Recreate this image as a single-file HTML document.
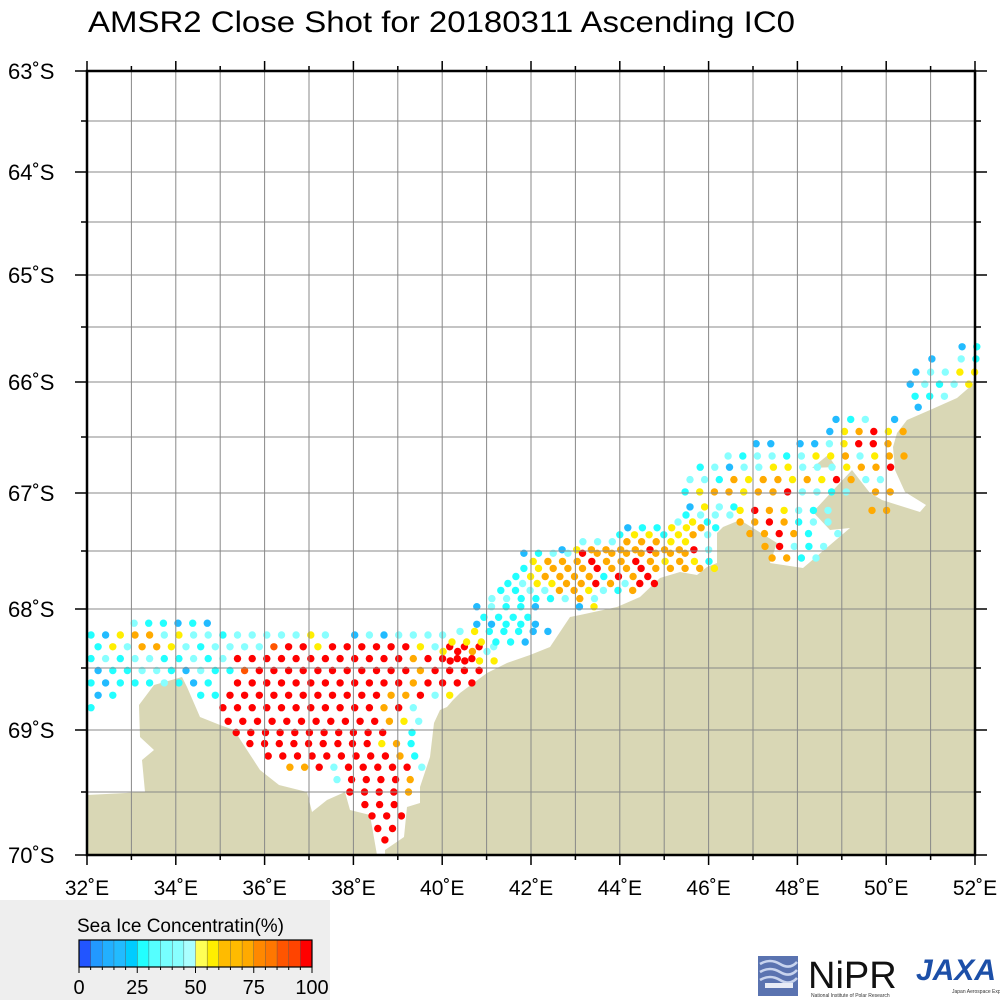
<!DOCTYPE html>
<html><head><meta charset="utf-8"><style>
html,body{margin:0;padding:0;background:#fff;}
svg{display:block;font-family:"Liberation Sans",sans-serif;}
</style></head><body>
<svg id="chart" width="1000" height="1000" viewBox="0 0 1000 1000" xmlns="http://www.w3.org/2000/svg">
<text x="88" y="32" font-size="30" textLength="707" lengthAdjust="spacingAndGlyphs">AMSR2 Close Shot for 20180311 Ascending IC0</text>
<rect x="87" y="71" width="888" height="784" fill="#fff"/>
<path fill="#d9d7b5" d="M87,795 L145,792 L142,760 L154,750 L140,737 L139,705 L154,685 L182,677 L187,687 L200,717 L220,725 L234,730 L247,750 L260,770 L279,785 L307,792 L312,812 L327,800 L345,792 L350,810 L370,815 L377,855 L385,855 L385,850 L404,837 L407,807 L420,803 L420,787 L430,757 L434,723 L440,710 L447,707 L453,700 L460,693 L487,673 L507,663 L530,655 L550,647 L570,617 L580,615 L617,607 L640,597 L660,578 L680,572 L697,575 L707,567 L717,563 L717,533 L723,527 L740,520 L777,543 L770,563 L803,568 L850,528 L830,530 L813,512 L838,485 L852,470 L870,493 L882,500 L920,512 L926,505 L905,492 L895,470 L893,447 L897,433 L907,420 L930,410 L957,398 L972,385 L975,380 L975,855 L87,855 Z"/>
<path fill="#d9d7b5" d="M812,468 L828,455 L836,467 Z"/>
<g id="dots"></g>
<g id="grid"></g>
<g id="axes"></g>
<g>
<rect x="0" y="900" width="330" height="100" fill="#eeeeee"/>
<text x="77" y="932" font-size="19">Sea Ice Concentratin(%)</text>
<g id="cbar"></g>
</g>
<g>
<rect x="758" y="956" width="40" height="40" fill="#5a73b0"/>
<path d="M760,964 Q770,958 780,964 T797,962 M760,972 Q770,966 780,972 T797,970 M760,980 Q770,974 780,980 T797,978" stroke="#c8d4ee" stroke-width="2.5" fill="none"/>
<rect x="765" y="983" width="28" height="5" fill="#e8ecf6"/>
<text x="808" y="988" font-size="38" fill="#111">NiPR</text>
<text x="811" y="997" font-size="5" fill="#333">National Institute of Polar Research</text>
</g>
<g>
<text x="916" y="980" font-size="30" font-style="italic" font-weight="bold" fill="#1c4fa8" textLength="80" lengthAdjust="spacingAndGlyphs">JAXA</text>
<text x="952" y="993" font-size="5" fill="#333">Japan Aerospace Exploration Agency</text>
</g>
</svg>
<script>
// --- data ---
const latTicks = [63,63.5,64,64.5,65,65.5,66,66.5,67,67.5,68,68.5,69,69.5,70];
const latTickY = [71,121,172,222,275,327,382,437,493,551,609,668,730,792,855];
const lonMin = 32, lonMax = 52;
const lonLabels = [32,34,36,38,40,42,44,46,48,50,52];
const latLabels = [63,64,65,66,67,68,69,70];
const dlon = 0.33;
// codes: b blue, c cyan, l light cyan, y yellow, o orange, d dark orange, r red, "." no data
const codeValue = {b:15,c:28,l:42,y:57,o:72,d:88,r:100};
const rowLat = [68.12,68.22,68.32,68.42,68.52,68.62,68.72,68.82,68.93,69.02,69.11,69.21,69.30,69.40,69.50,69.60,69.69,69.79,69.88,
 67.12,67.19,67.25,67.30,67.36,67.42,67.49,67.52,67.59,67.65,67.72,67.78,67.84,67.91,67.98,68.07,68.13,68.19,68.28,68.36,68.44,
 65.68,65.79,65.91,66.02,66.13,66.23,66.34,66.45,66.56,66.67,66.77,66.88,66.99,67.15,67.25,67.35,67.46,67.56];
const rowLon0 = [33.06,32.09,32.25,32.09,32.25,32.09,32.25,32.09,35.18,35.36,35.67,36.08,36.57,37.63,37.92,38.26,38.42,38.55,38.71,
 45.58,45.49,45.31,44.18,44.00,43.17,42.70,41.84,42.05,41.84,41.66,41.48,41.32,41.12,40.78,40.94,40.78,40.40,40.22,40.02,40.18,
 51.71,51.03,50.67,50.54,50.65,50.72,48.87,48.73,47.07,46.44,45.81,45.58,45.47,46.71,46.71,46.93,47.27,47.43];
const rowCodes = ["lccbcb","cbyoolyllclllllyl.blbllll","cylooylclllldrryrrrrrrylrrrl","clcllcclclrrrrrrrrrrrrorrrr","bccllcblccdrrrrrrrrrrrorrrr","cbccclcbc.rrrrrrrrrrrrorrrr","bc.....ccrrrrrrrrrrroorly","c........rrrrrrrrrrrorl","rrrrrrrrrrroyl","rrrrrrrrrrr.c","rrrrrrrrryoc","rrrrrrrrroc","oorlrrrrrl","lrrrro","rrrro","rrr","rrr","rr","r",
 "bylc","clll","lyc","bccyyoc","cyycyol","llloooyy","byooooroorl","bcllrooooooo","yooorooroyoyc","cyoooroorooooy","cyoooocror","clyyoorolrr","ccllooylco","llccclol","blccb..by","cccc","bbccb","lycccbb","yyyccb","yrol","rryy",
 "bc","b.lc","bllyy","blcly","ccl","b","bcl.b","byoryo","bb.bblyrro","lcllclyyolyoo","clbllyylllyoor","llcoyooyoyroll","cyooyoorllcl.oo","yroylcl..oo","oorocll","ooroc.l","orlcl","oocl"];
const cbarColors = ["#2255ff","#2299ff","#22b0ff","#22bbff","#00ccff","#22ffff","#55ffff","#77ffff","#88ffff","#aaffff","#ffff55","#ffee00","#ffbb00","#ffbb00","#ffaa00","#ff8800","#ff7700","#ff5500","#ff4400","#ff0000"];
const cbarTicks = [0,25,50,75,100];

// --- scales ---
const X0=87, X1=975;
function xOf(lon){return X0+(lon-lonMin)/(lonMax-lonMin)*(X1-X0);}
function yOf(lat){
  for(let i=0;i<latTicks.length-1;i++){
    if(lat<=latTicks[i+1]){const t=(lat-latTicks[i])/(latTicks[i+1]-latTicks[i]);return latTickY[i]+t*(latTickY[i+1]-latTickY[i]);}
  }
  return latTickY[latTickY.length-1];
}
function colorOf(v){let i=Math.min(19,Math.floor(v/5));return cbarColors[i];}
const NS="http://www.w3.org/2000/svg";
function mk(tag,attrs,parent){const e=document.createElementNS(NS,tag);for(const k in attrs)e.setAttribute(k,attrs[k]);parent.appendChild(e);return e;}

// dots
const dg=document.getElementById('dots');
rowCodes.forEach((codes,r)=>{
  for(let i=0;i<codes.length;i++){
    const ch=codes[i]; if(!(ch in codeValue)) continue;
    const c=mk('circle',{cx:xOf(rowLon0[r]+i*dlon).toFixed(1),cy:yOf(rowLat[r]).toFixed(1),r:3.7,fill:colorOf(codeValue[ch])},dg);
    
    
  }
});

// grid
const gg=document.getElementById('grid');
for(let lon=lonMin+1;lon<lonMax;lon++){
  const l=mk('line',{x1:xOf(lon),x2:xOf(lon),y1:71,y2:855,stroke:'#888','stroke-width':1},gg);
  
  
}
latTicks.slice(1,-1).forEach(lat=>{
  const l=mk('line',{x1:X0,x2:X1,y1:yOf(lat),y2:yOf(lat),stroke:'#888','stroke-width':1},gg);
  
  
});

// axes
const ag=document.getElementById('axes');
const fr=mk('rect',{x:X0,y:71,width:X1-X0,height:784,fill:'none',stroke:'#000','stroke-width':2.5},ag);


for(let lon=lonMin;lon<=lonMax;lon++){
  const len=(lon%2===0)?10:5;
  mk('line',{x1:xOf(lon),x2:xOf(lon),y1:71-len,y2:71,stroke:'#000','stroke-width':1.5},ag);
  mk('line',{x1:xOf(lon),x2:xOf(lon),y1:855,y2:855+len,stroke:'#000','stroke-width':1.5},ag);
}
latTicks.forEach((lat,i)=>{
  const len=(i%2===0)?12:6;
  mk('line',{x1:X0-len,x2:X0,y1:yOf(lat),y2:yOf(lat),stroke:'#000','stroke-width':1.5},ag);
  mk('line',{x1:X1,x2:X1+len,y1:yOf(lat),y2:yOf(lat),stroke:'#000','stroke-width':1.5},ag);
});
lonLabels.forEach(lon=>{
  const t=mk('text',{x:xOf(lon),y:895,'font-size':21,'text-anchor':'middle'},ag);
  t.textContent=lon+'˚E';
  
  
});
latLabels.forEach(lat=>{
  const t=mk('text',{x:8,y:yOf(lat)+8,'font-size':22},ag);
  t.textContent=lat+'˚S';
  
  
});

// colorbar
const cg=document.getElementById('cbar');
const cbX=79,cbW=233,cbY=940,cbH=27;
cbarColors.forEach((col,i)=>{
  const r=mk('rect',{x:cbX+i*cbW/20,y:cbY,width:cbW/20+0.3,height:cbH,fill:col,stroke:'#555','stroke-width':0.4},cg);
  
  
});
mk('rect',{x:cbX,y:cbY,width:cbW,height:cbH,fill:'none',stroke:'#000','stroke-width':1.2},cg);
for(let i=0;i<=20;i++){mk('line',{x1:cbX+i*cbW/20,x2:cbX+i*cbW/20,y1:cbY+cbH,y2:cbY+cbH+(i%5===0?6:3),stroke:'#000','stroke-width':1},cg);}
cbarTicks.forEach(v=>{
  const t=mk('text',{x:cbX+v/100*cbW,y:994,'font-size':20,'text-anchor':'middle'},cg);
  t.textContent=v;
  
  
});
</script>
</body></html>
